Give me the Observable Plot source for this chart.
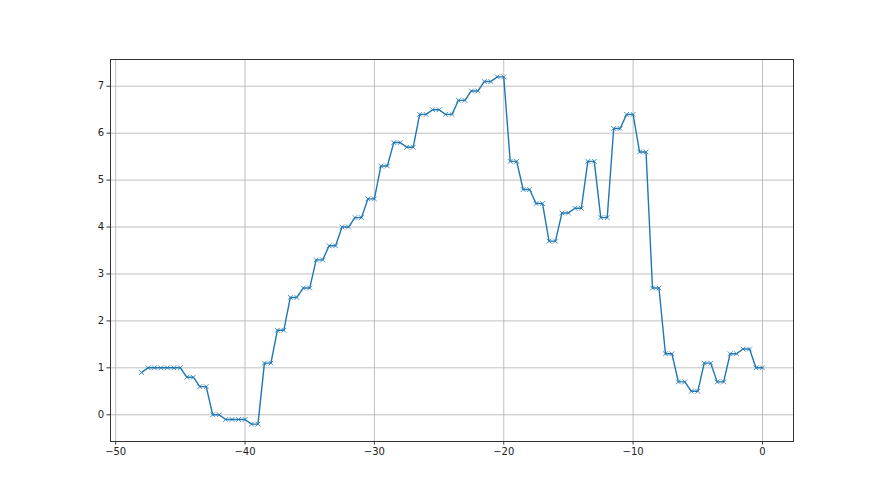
<!DOCTYPE html>
<html>
<head>
<meta charset="utf-8">
<script src="https://cdn.jsdelivr.net/npm/d3@7"></script>
<script src="https://cdn.jsdelivr.net/npm/@observablehq/plot@0.6"></script>
<style>
  html, body { margin: 0; padding: 0; background: #fff; }
  svg { display: block; }
</style>
</head>
<body>
<div id="chart"></div>
<script>
const xValues = [
  -48, -47.5, -47, -46.5, -46, -45.5, -45,
  -44.5, -44, -43.5, -43, -42.5, -42, -41.5, -41, -40.5, -40, -39.5, -39,
  -38.5, -38, -37.5, -37, -36.5, -36, -35.5, -35, -34.5, -34, -33.5, -33,
  -32.5, -32, -31.5, -31, -30.5, -30, -29.5, -29, -28.5, -28, -27.5, -27,
  -26.5, -26, -25.5, -25, -24.5, -24, -23.5, -23, -22.5, -22, -21.5, -21,
  -20.5, -20, -19.5, -19, -18.5, -18, -17.5, -17, -16.5, -16, -15.5, -15,
  -14.5, -14, -13.5, -13, -12.5, -12, -11.5, -11, -10.5, -10, -9.5, -9,
  -8.5, -8, -7.5, -7, -6.5, -6, -5.5, -5, -4.5, -4, -3.5, -3,
  -2.5, -2, -1.5, -1, -0.5, 0
];
const yValues = [
  0.9, 1.0, 1.0, 1.0, 1.0, 1.0, 1.0,
  0.8, 0.8, 0.6, 0.6, 0.0, 0.0, -0.1, -0.1, -0.1, -0.1, -0.2, -0.2,
  1.1, 1.1, 1.8, 1.8, 2.5, 2.5, 2.7, 2.7, 3.3, 3.3, 3.6, 3.6,
  4.0, 4.0, 4.2, 4.2, 4.6, 4.6, 5.3, 5.3, 5.8, 5.8, 5.7, 5.7,
  6.4, 6.4, 6.5, 6.5, 6.4, 6.4, 6.7, 6.7, 6.9, 6.9, 7.1, 7.1,
  7.2, 7.2, 5.4, 5.4, 4.8, 4.8, 4.5, 4.5, 3.7, 3.7, 4.3, 4.3,
  4.4, 4.4, 5.4, 5.4, 4.2, 4.2, 6.1, 6.1, 6.4, 6.4, 5.6, 5.6,
  2.7, 2.7, 1.3, 1.3, 0.7, 0.7, 0.5, 0.5, 1.1, 1.1, 0.7, 0.7,
  1.3, 1.3, 1.4, 1.4, 1.0, 1.0
];
const xTicks = [-50, -40, -30, -20, -10, 0];
const yTicks = [0, 1, 2, 3, 4, 5, 6, 7];

const data = xValues.map((x, i) => ({x, y: yValues[i]}));
const fmt = d => String(d).replace("-", "\u2212");

const chart = Plot.plot({
  width: 880,
  height: 495,
  marginLeft: 110,
  marginRight: 87,
  marginTop: 59,
  marginBottom: 54,
  style: {fontFamily: "DejaVu Sans", fontSize: "10px", color: "#222", background: "#fff"},
  x: {domain: [-50.4, 2.4]},
  y: {domain: [-0.57, 7.57]},
  marks: [
    Plot.gridX(xTicks, {stroke: "#b0b0b0", strokeOpacity: 1, strokeWidth: 0.8}),
    Plot.gridY(yTicks, {stroke: "#b0b0b0", strokeOpacity: 1, strokeWidth: 0.8}),
    Plot.axisX(xTicks, {tickSize: 3.5, tickPadding: 3, tickFormat: fmt, label: null, stroke: "#333"}),
    Plot.axisY(yTicks, {tickSize: 3.5, tickPadding: 3, tickFormat: fmt, label: null, stroke: "#333"}),
    Plot.line(data, {x: "x", y: "y", stroke: "#1f77b4", strokeWidth: 1.4}),
    Plot.dot(data, {x: "x", y: "y", symbol: "times", r: 2.3, stroke: "#1f77b4", strokeWidth: 0.8}),
    Plot.frame({stroke: "#333", strokeWidth: 1})
  ]
});
document.getElementById("chart").appendChild(chart);
</script>
</body>
</html>
